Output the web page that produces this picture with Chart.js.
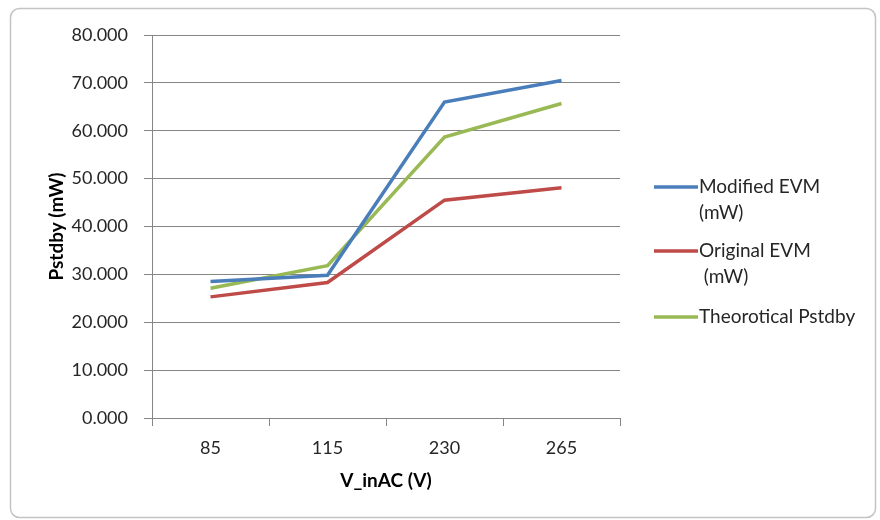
<!DOCTYPE html>
<html>
<head>
<meta charset="utf-8">
<script src="https://cdn.jsdelivr.net/npm/chart.js@4/dist/chart.umd.min.js"></script>
<style>
  html, body { margin: 0; padding: 0; background: #ffffff; }
  #wrap { width: 880px; height: 520px; }
</style>
</head>
<body>
<div id="wrap"><canvas id="chart" width="880" height="520"></canvas></div>
<script>
// Input voltage categories (V AC)
const voltages = ['85', '115', '230', '265'];

// Standby power readings, mW
const modifiedEvm = [28.5, 29.8, 66.0, 70.5];
const originalEvm = [25.3, 28.3, 45.5, 48.1];
const theoreticalPstdby = [27.1, 31.8, 58.7, 65.7];

// Legend entries (multi-line labels)
const seriesLabels = [
  ['Modified EVM', '(mW)'],
  ['Original EVM', ' (mW)'],
  ['Theorotical Pstdby']
];
const seriesColors = ['#4a7ebb', '#be4b48', '#98b954'];

const FONT = 'Lato, "Open Sans", sans-serif';

// Rounded frame around the whole chart
const framePlugin = {
  id: 'frame',
  beforeDraw(chart) {
    const ctx = chart.ctx;
    ctx.save();
    ctx.fillStyle = '#ffffff';
    ctx.fillRect(0, 0, chart.width, chart.height);
    const x = 10.5, y = 8.5, w = 865, h = 509, r = 9;
    ctx.beginPath();
    ctx.moveTo(x + r, y);
    ctx.lineTo(x + w - r, y);
    ctx.arcTo(x + w, y, x + w, y + r, r);
    ctx.lineTo(x + w, y + h - r);
    ctx.arcTo(x + w, y + h, x + w - r, y + h, r);
    ctx.lineTo(x + r, y + h);
    ctx.arcTo(x, y + h, x, y + h - r, r);
    ctx.lineTo(x, y + r);
    ctx.arcTo(x, y, x + r, y, r);
    ctx.closePath();
    ctx.lineWidth = 1.5;
    ctx.strokeStyle = '#c4c4c4';
    ctx.stroke();
    ctx.restore();
  }
};

// Legend drawn to the right of the plot, with wrapped labels
const sideLegend = {
  id: 'sideLegend',
  afterDraw(chart) {
    const ctx = chart.ctx;
    const x0 = 654, x1 = 698, tx = 699;
    const rowY = [187, 251, 317];
    const lineGap = 26;
    ctx.save();
    ctx.font = '19px ' + FONT;
    ctx.textBaseline = 'middle';
    ctx.textAlign = 'left';
    chart.data.datasets.forEach((ds, i) => {
      const y = rowY[i];
      ctx.strokeStyle = ds.borderColor;
      ctx.lineWidth = 3.5;
      ctx.beginPath();
      ctx.moveTo(x0, y);
      ctx.lineTo(x1, y);
      ctx.stroke();
      ctx.fillStyle = '#262626';
      const lines = Array.isArray(ds.label) ? ds.label : [ds.label];
      lines.forEach((t, k) => ctx.fillText(t, tx, y + k * lineGap));
    });
    ctx.restore();
  }
};

const datasets = [modifiedEvm, originalEvm, theoreticalPstdby].map((vals, i) => ({
  label: seriesLabels[i],
  data: vals,
  borderColor: seriesColors[i],
  backgroundColor: seriesColors[i],
  borderWidth: 3.5,
  pointRadius: 0,
  pointHoverRadius: 0,
  tension: 0,
  fill: false
}));

new Chart(document.getElementById('chart'), {
  type: 'line',
  data: { labels: voltages, datasets },
  options: {
    responsive: false,
    devicePixelRatio: 1,
    animation: false,
    layout: { padding: { top: 35, right: 260, bottom: 0, left: 0 } },
    plugins: {
      legend: { display: false },
      tooltip: { enabled: false }
    },
    scales: {
      x: {
        offset: true,
        afterFit(scale) { scale.height = 102; },
        grid: {
          offset: true,
          drawOnChartArea: false,
          drawTicks: true,
          tickLength: 8,
          color: '#868686',
          lineWidth: 1
        },
        border: { color: '#868686', width: 1 },
        ticks: {
          color: '#262626',
          font: { family: FONT, size: 18 },
          padding: 11,
          maxRotation: 0
        },
        title: {
          display: true,
          text: 'V_inAC (V)',
          color: '#000000',
          font: { family: FONT, size: 19, weight: 'bold' },
          padding: { top: 0, bottom: 28 }
        }
      },
      y: {
        min: 0,
        max: 80,
        afterFit(scale) { scale.width = 152; },
        grid: {
          color: '#868686',
          lineWidth: 1,
          tickLength: 8
        },
        border: { color: '#868686', width: 1 },
        ticks: {
          stepSize: 10,
          color: '#262626',
          font: { family: FONT, size: 18 },
          padding: 16,
          callback: v => Number(v).toFixed(3)
        },
        title: {
          display: true,
          text: 'Pstdby (mW)',
          color: '#000000',
          font: { family: FONT, size: 19, weight: 'bold' },
          padding: { top: 45, bottom: 0 }
        }
      }
    }
  },
  plugins: [framePlugin, sideLegend]
});
</script>
</body>
</html>
